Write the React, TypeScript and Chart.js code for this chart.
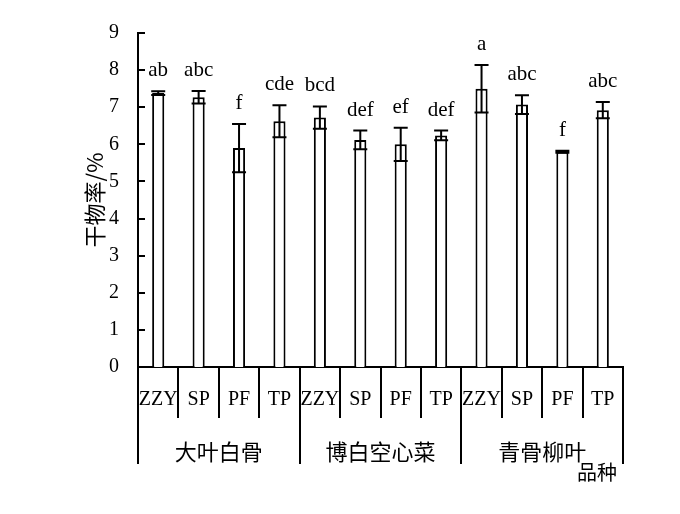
import { useEffect, useRef } from 'react';
import { Chart, registerables } from 'chart.js';

Chart.register(...registerables);

// Treatments repeated for each variety, varieties spanning four bars each
const treatments = ['ZZY', 'SP', 'PF', 'TP', 'ZZY', 'SP', 'PF', 'TP', 'ZZY', 'SP', 'PF', 'TP'];
const varieties = ['大叶白骨', '博白空心菜', '青骨柳叶'];
const dryMatter = [7.38, 7.27, 5.9, 6.62, 6.72, 6.12, 6.0, 6.24, 7.5, 7.07, 5.8, 6.92];
const stdDev = [0.05, 0.17, 0.65, 0.43, 0.3, 0.25, 0.45, 0.13, 0.64, 0.25, 0.03, 0.22];
const letters = ['ab', 'abc', 'f', 'cde', 'bcd', 'def', 'ef', 'def', 'a', 'abc', 'f', 'abc'];
const yMin = 0;
const yMax = 9;
const yStep = 1;
const yTitle = '干物率/%';
const xTitle = '品种';

const SERIF = '"Liberation Serif", "DejaVu Serif", serif';
const CJK = '"Noto Sans CJK SC", sans-serif';

const annotate = {
  id: 'annotate',
  afterDatasetsDraw(chart: any) {
    const { ctx } = chart;
    const y = chart.scales.y;
    const meta = chart.getDatasetMeta(0);
    ctx.save();
    ctx.strokeStyle = '#000';
    ctx.lineWidth = 2;
    ctx.fillStyle = '#000';
    ctx.font = `21px ${SERIF}`;
    ctx.textAlign = 'center';
    ctx.textBaseline = 'alphabetic';
    meta.data.forEach((bar: any, i: number) => {
      const cx = bar.x;
      const hi = y.getPixelForValue(dryMatter[i] + stdDev[i]);
      const lo = y.getPixelForValue(dryMatter[i] - stdDev[i]);
      const half = 7;
      ctx.beginPath();
      ctx.moveTo(cx, hi);
      ctx.lineTo(cx, lo);
      ctx.moveTo(cx - half, hi);
      ctx.lineTo(cx + half, hi);
      ctx.moveTo(cx - half, lo);
      ctx.lineTo(cx + half, lo);
      ctx.stroke();
      ctx.fillText(letters[i], cx, hi - 15);
    });
    ctx.restore();
  },
  afterDraw(chart: any) {
    const { ctx, chartArea } = chart;
    const x = chart.scales.x;
    const y = chart.scales.y;
    ctx.save();
    ctx.strokeStyle = '#000';
    ctx.fillStyle = '#000';
    ctx.lineWidth = 2;

    // inward tick marks on the value axis
    ctx.beginPath();
    y.ticks.forEach((t: any) => {
      const py = Math.round(y.getPixelForValue(t.value));
      ctx.moveTo(chartArea.left, py);
      ctx.lineTo(chartArea.left + 7, py);
    });
    ctx.stroke();

    // long separators between varieties
    const perGroup = treatments.length / varieties.length;
    const edge = (i: number) => {
      if (i <= 0) return chartArea.left;
      if (i >= treatments.length) return chartArea.right;
      return (x.getPixelForValue(i - 1) + x.getPixelForValue(i)) / 2;
    };
    ctx.beginPath();
    for (let g = 0; g <= varieties.length; g++) {
      const px = Math.round(edge(g * perGroup));
      ctx.moveTo(px, chartArea.bottom);
      ctx.lineTo(px, chartArea.bottom + 97);
    }
    ctx.stroke();

    // variety names
    ctx.font = `22px ${CJK}`;
    ctx.textAlign = 'center';
    ctx.textBaseline = 'middle';
    varieties.forEach((v, g) => {
      const cx = (edge(g * perGroup) + edge((g + 1) * perGroup)) / 2;
      ctx.fillText(v, cx, chartArea.bottom + 85);
    });

    // axis titles
    ctx.font = `20px ${CJK}`;
    ctx.textAlign = 'right';
    ctx.fillText(xTitle, chartArea.right - 6, chartArea.bottom + 105);

    ctx.translate(95, (chartArea.top + chartArea.bottom) / 2);
    ctx.rotate(-Math.PI / 2);
    ctx.textAlign = 'center';
    ctx.font = `22px ${CJK}`;
    ctx.fillText(yTitle, 0, 0);
    ctx.restore();
  },
};

export default function App() {
  const ref = useRef<HTMLCanvasElement | null>(null);

  useEffect(() => {
    if (!ref.current) return;
    const chart = new Chart(ref.current, {
      type: 'bar',
      data: {
        labels: treatments,
        datasets: [
          {
            data: dryMatter,
            backgroundColor: '#fff',
            borderColor: '#000',
            borderWidth: 2,
            barPercentage: 0.3,
            categoryPercentage: 1,
          },
        ],
      },
      options: {
        responsive: false,
        animation: false,
        layout: { padding: { left: 0, right: 57, top: 33, bottom: 0 } },
        plugins: {
          legend: { display: false },
          tooltip: { enabled: false },
        },
        scales: {
          x: {
            type: 'category',
            offset: true,
            grid: {
              offset: true,
              drawOnChartArea: false,
              drawTicks: true,
              tickLength: 51,
              color: '#000',
              lineWidth: 2,
            },
            border: { display: true, color: '#000', width: 2 },
            ticks: {
              color: '#000',
              font: { family: SERIF, size: 20 },
              padding: -30,
              maxRotation: 0,
              autoSkip: false,
            },
            afterFit: (s: any) => {
              s.height = 147;
            },
          },
          y: {
            min: yMin,
            max: yMax,
            ticks: {
              stepSize: yStep,
              color: '#000',
              font: { family: SERIF, size: 20 },
              padding: 19,
            },
            grid: { display: false, drawTicks: false },
            border: { display: true, color: '#000', width: 2 },
            afterFit: (s: any) => {
              s.width = 138;
            },
          },
        },
      },
      plugins: [annotate],
    });
    return () => chart.destroy();
  }, []);

  return (
    <div style={{ position: 'fixed', left: 0, top: 0, width: 680, height: 514, background: '#fff' }}>
      <canvas ref={ref} width={680} height={514} />
    </div>
  );
}
